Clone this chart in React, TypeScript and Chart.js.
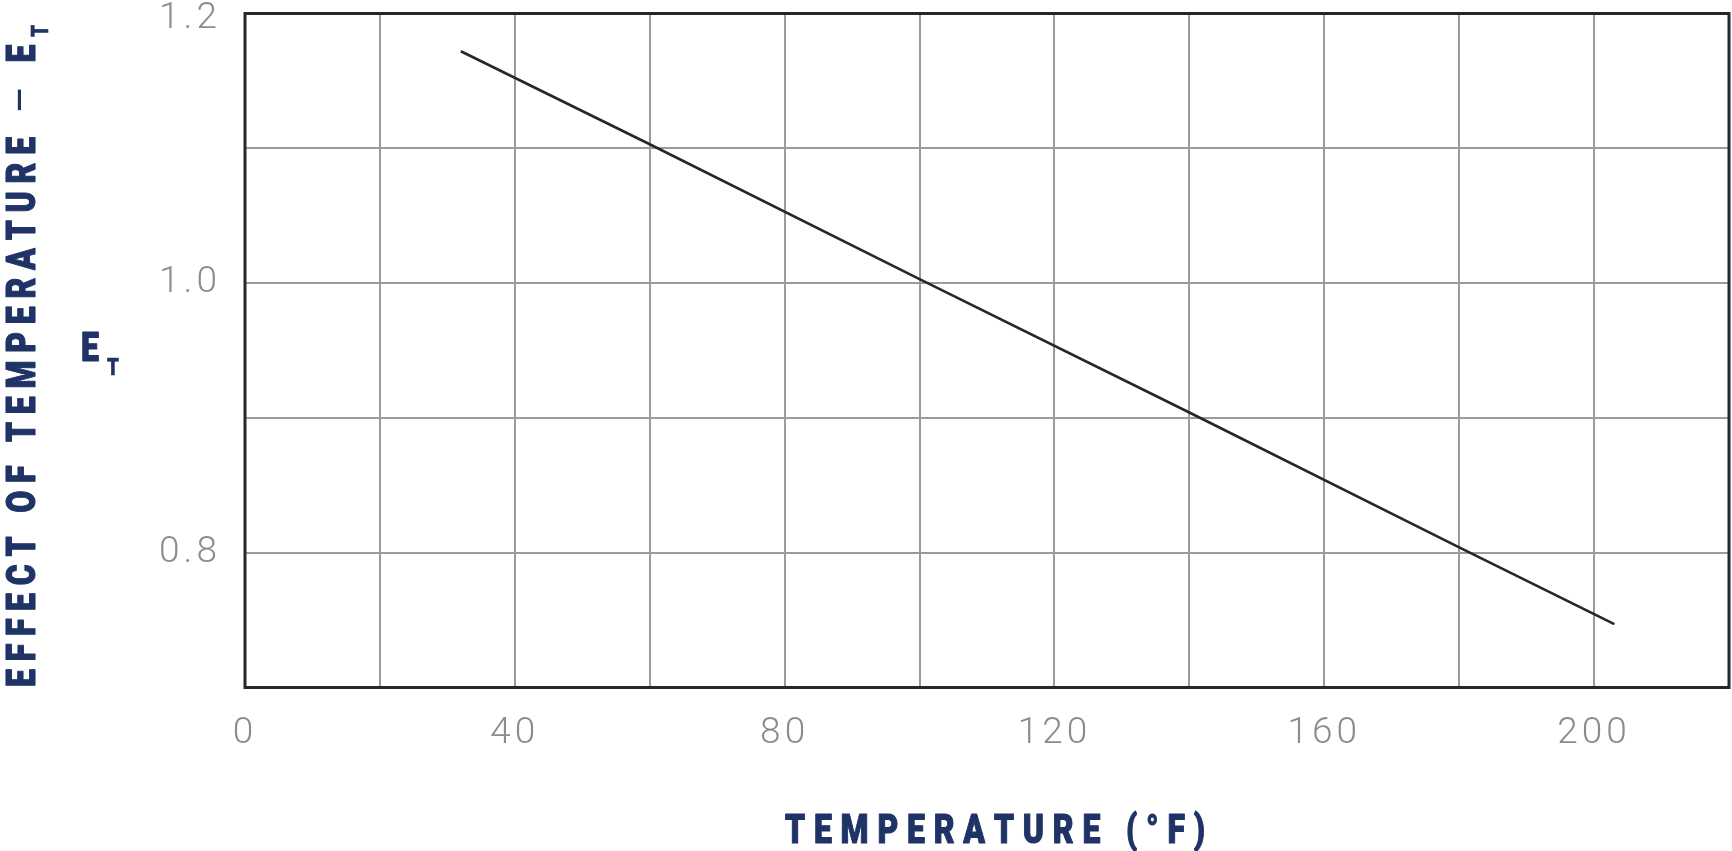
import { useEffect, useRef } from "react";
import { Chart, registerables } from "chart.js";

Chart.register(...registerables);

// ---- data ----
const temperatureF = [32, 60, 100, 140, 180, 203];
const effectET = [1.172, 1.103, 1.003, 0.904, 0.804, 0.747];
const xTickLabels = [0, 40, 80, 120, 160, 200];
const yTickLabels = [0.8, 1.0, 1.2];
const xTitle = "TEMPERATURE (°F)";
const yTitleWords = "EFFECT OF TEMPERATURE ";
const yTitleDash = "–";
const yTitleSymbol = " E";
const symbolMain = "E";
const symbolSub = "T";

// ---- styling ----
const W = 1732;
const H = 851;
const NAVY = "#1f3366";
const FRAME = "#23272e";
const GRID = "#9b9b9b";
const TICK = "#8a8d8e";
const TICK_FONT = 'Roboto, "Liberation Sans", sans-serif';
const TITLE_FONT = 'Roboto, "Liberation Sans", sans-serif';
const SQUEEZE = 0.78;

type Run = { text: string; font: string; dy: number; sx: number; stroke: number };

function drawRuns(ctx: CanvasRenderingContext2D, runs: Run[], x0: number, baseline: number, length: number) {
  let total = 0;
  let n = 0;
  runs.forEach((r) => {
    ctx.font = r.font;
    for (const ch of r.text) {
      total += ctx.measureText(ch).width * r.sx;
      n++;
    }
  });
  const sp = n > 1 ? (length - total) / (n - 1) : 0;
  let x = x0;
  runs.forEach((r) => {
    ctx.font = r.font;
    for (const ch of r.text) {
      ctx.save();
      ctx.translate(x, baseline + r.dy);
      ctx.scale(r.sx, 1);
      ctx.fillText(ch, 0, 0);
      if (r.stroke > 0) {
        ctx.lineWidth = r.stroke;
        ctx.lineJoin = "round";
        ctx.strokeText(ch, 0, 0);
      }
      ctx.restore();
      x += ctx.measureText(ch).width * r.sx + sp;
    }
  });
}

const titlesPlugin = {
  id: "titlesPlugin",
  beforeDraw(chart: any) {
    (chart.ctx as any).letterSpacing = "4px";
  },
  afterDraw(chart: any) {
    const ctx: CanvasRenderingContext2D = chart.ctx;
    const a = chart.chartArea;
    ctx.save();
    (ctx as any).letterSpacing = "0px";
    // frame
    ctx.strokeStyle = FRAME;
    ctx.lineWidth = 3;
    ctx.strokeRect(a.left, a.top, a.right - a.left, a.bottom - a.top);

    ctx.fillStyle = NAVY;
    ctx.strokeStyle = NAVY;
    ctx.textBaseline = "alphabetic";
    ctx.textAlign = "left";
    const bold42 = `900 41px ${TITLE_FONT}`;
    const bold24 = `900 24px ${TITLE_FONT}`;
    const reg42 = `400 42px ${TITLE_FONT}`;

    // x title
    drawRuns(ctx, [{ text: xTitle, font: bold42, dy: 0, sx: SQUEEZE, stroke: 1.1 }], 785, 843, 420);

    // y title (rotated)
    ctx.save();
    ctx.translate(0, 687);
    ctx.rotate(-Math.PI / 2);
    drawRuns(
      ctx,
      [
        { text: yTitleWords, font: bold42, dy: 0, sx: SQUEEZE, stroke: 1.1 },
        { text: yTitleDash, font: reg42, dy: 0, sx: 1, stroke: 0 },
        { text: yTitleSymbol, font: bold42, dy: 0, sx: SQUEEZE, stroke: 1.1 },
        { text: symbolSub, font: bold24, dy: 13, sx: SQUEEZE, stroke: 0.6 },
      ],
      0,
      35,
      662
    );
    ctx.restore();

    // E_T label
    drawRuns(ctx, [{ text: symbolMain, font: bold42, dy: 0, sx: SQUEEZE, stroke: 1.1 }], 81, 361, 0);
    drawRuns(ctx, [{ text: symbolSub, font: bold24, dy: 0, sx: SQUEEZE, stroke: 0.6 }], 107, 375, 0);
    ctx.restore();
  },
};

export default function App() {
  const ref = useRef<HTMLCanvasElement | null>(null);
  useEffect(() => {
    if (!ref.current) return;
    const yMaxLabel = Math.max(...yTickLabels);
    const chart = new Chart(ref.current, {
      type: "line",
      data: {
        datasets: [
          {
            data: temperatureF.map((x, i) => ({ x, y: effectET[i] })),
            borderColor: FRAME,
            borderWidth: 2.6,
            pointRadius: 0,
            tension: 0,
            fill: false,
          },
        ],
      },
      options: {
        animation: false,
        responsive: false,
        devicePixelRatio: 1,
        layout: { padding: { top: 13.5, right: 3, left: 0, bottom: 0 } },
        plugins: { legend: { display: false }, tooltip: { enabled: false } },
        scales: {
          x: {
            type: "linear",
            min: 0,
            max: 220,
            border: { display: false },
            grid: { color: GRID, lineWidth: 2, drawTicks: false },
            ticks: {
              stepSize: 20,
              autoSkip: false,
              maxRotation: 0,
              padding: 24,
              color: TICK,
              font: { family: TICK_FONT, size: 37, weight: 300 },
              callback: (v: any) => (xTickLabels.includes(Number(v)) ? String(v) : ""),
            },
            afterFit: (s: any) => {
              s.height = H - 687.5;
              s.paddingLeft = 0;
              s.paddingRight = 0;
            },
          },
          y: {
            type: "linear",
            min: 0.7,
            max: 1.2,
            border: { display: false },
            grid: { color: GRID, lineWidth: 2, drawTicks: false },
            ticks: {
              stepSize: 0.1,
              autoSkip: false,
              padding: 24,
              color: TICK,
              font: (c: any) =>
                c.tick && Math.abs(c.tick.value - yMaxLabel) < 1e-6
                  ? { family: TICK_FONT, size: 37, weight: 300, lineHeight: "10px" }
                  : { family: TICK_FONT, size: 37, weight: 300 },
              callback: (v: any) => {
                const n = Number(v);
                if (!yTickLabels.some((t) => Math.abs(t - n) < 1e-6)) return "";
                // the top label sits a little lower so it is not cut by the canvas edge
                return Math.abs(n - yMaxLabel) < 1e-6 ? ["", n.toFixed(1)] : n.toFixed(1);
              },
            },
            afterFit: (s: any) => {
              s.width = 245;
              s.paddingTop = 0;
              s.paddingBottom = 0;
            },
          },
        },
      },
      plugins: [titlesPlugin],
    });
    return () => chart.destroy();
  }, []);
  return (
    <div style={{ position: "fixed", left: 0, top: 0, width: W, height: H, background: "#fff" }}>
      <canvas ref={ref} width={W} height={H} style={{ display: "block" }} />
    </div>
  );
}
